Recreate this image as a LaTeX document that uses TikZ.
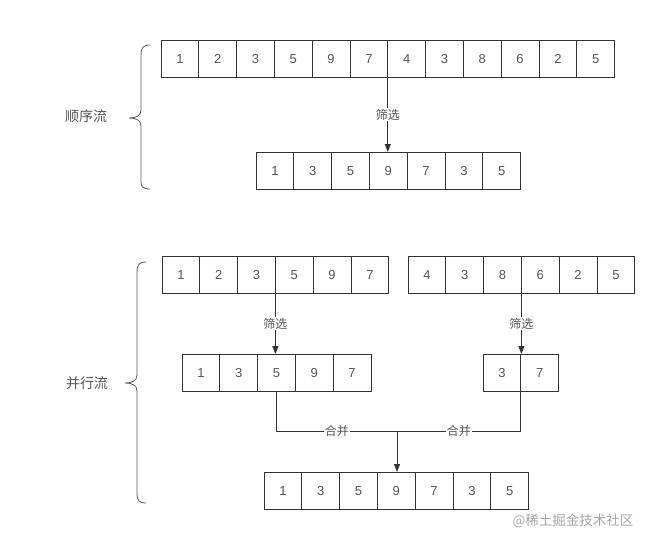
\documentclass[tikz,border=0pt]{standalone}
\usepackage{fontspec}
\setmainfont{Liberation Sans}
\newfontfamily\cjk{Noto Sans CJK SC}
\usetikzlibrary{arrows.meta}
\definecolor{linec}{HTML}{333333}
\definecolor{txtc}{HTML}{555555}
\definecolor{wmc}{HTML}{A8A8A8}
\tikzset{
  cell/.style={draw=linec, line width=0.8pt, minimum width=37.8pt, minimum height=37.5pt,
    inner sep=0pt, outer sep=0pt, anchor=north west, text=txtc, font=\fontsize{13}{15}\selectfont},
  conn/.style={draw=linec, line width=0.8pt},
  arr/.style={conn, -{Triangle[length=8pt,width=6pt]}},
  lbl/.style={fill=white, inner sep=1pt, text=txtc, font=\cjk\fontsize{12}{14}\selectfont},
  side/.style={text=txtc, font=\cjk\fontsize{14}{16}\selectfont},
  brace/.style={draw=linec!80, line width=0.8pt}
}
\begin{document}
\begin{tikzpicture}[x=1pt,y=-1pt]
\useasboundingbox[fill=white] (0,0) rectangle (649,544);
% sequential stream
\foreach \v [count=\i] in {1,2,3,5,9,7,4,3,8,6,2,5}
  \node[cell] (a\i) at ({161+(\i-1)*37.8},40) {\v};
\foreach \v [count=\i] in {1,3,5,9,7,3,5}
  \node[cell] (b\i) at ({256+(\i-1)*37.8},152) {\v};
\draw[arr] (a6.south east) -- (a6.south east |- b4.north) node[lbl, pos=0.5] {筛选};
\node[side] (seq) at (86,116) {顺序流};
\draw[brace] (150,45) .. controls (143,45) and (141,48) .. (141,55) -- (141,110)
  .. controls (141,116) and (136,118) .. (129,118)
  .. controls (136,118) and (141,120) .. (141,126) -- (141,181)
  .. controls (141,187) and (143,189) .. (150,189);
% parallel stream
\foreach \v [count=\i] in {1,2,3,5,9,7}
  \node[cell] (c\i) at ({162+(\i-1)*37.8},256) {\v};
\foreach \v [count=\i] in {4,3,8,6,2,5}
  \node[cell] (d\i) at ({408+(\i-1)*37.8},256) {\v};
\foreach \v [count=\i] in {1,3,5,9,7}
  \node[cell] (e\i) at ({182+(\i-1)*37.8},354) {\v};
\foreach \v [count=\i] in {3,7}
  \node[cell] (g\i) at ({483+(\i-1)*37.8},354) {\v};
\foreach \v [count=\i] in {1,3,5,9,7,3,5}
  \node[cell] (f\i) at ({264+(\i-1)*37.8},472) {\v};
\draw[arr] (c3.south east) -- (c3.south east |- e3.north) node[lbl, pos=0.5] {筛选};
\draw[arr] (d3.south east) -- (d3.south east |- g1.north) node[lbl, pos=0.5] {筛选};
\coordinate (j) at (397,431);
\draw[conn] (e3.south) |- (j) node[lbl, pos=0.75] {合并};
\draw[conn] (g1.south east) |- (j) node[lbl, pos=0.75] {合并};
\draw[arr] (j) -- (j |- f4.north);
\node[side] (par) at (87,383) {并行流};
\draw[brace] (146,262) .. controls (139,262) and (137,265) .. (137,272) -- (137,375)
  .. controls (137,381) and (132,383) .. (125,383)
  .. controls (132,383) and (137,385) .. (137,391) -- (137,494)
  .. controls (137,500) and (139,503) .. (146,503);
\node[text=wmc, font=\cjk\fontsize{13.5}{15}\selectfont] (wm) at (573,521) {@稀土掘金技术社区};
\end{tikzpicture}
\end{document}
